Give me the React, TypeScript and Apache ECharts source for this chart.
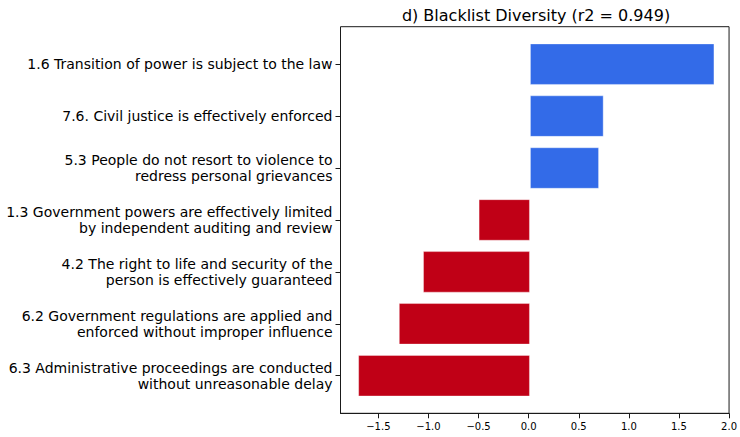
import React, { useEffect, useRef } from "react";
import * as echarts from "echarts";

// Indicator labels, top to bottom
const categories: string[] = [
  "1.6 Transition of power is subject to the law",
  "7.6. Civil justice is effectively enforced",
  "5.3 People do not resort to violence to\nredress personal grievances",
  "1.3 Government powers are effectively limited\nby independent auditing and review",
  "4.2 The right to life and security of the\nperson is effectively guaranteed",
  "6.2 Government regulations are applied and\nenforced without improper influence",
  "6.3 Administrative proceedings are conducted\nwithout unreasonable delay",
];

// Coefficient per indicator
const values: number[] = [1.829, 0.731, 0.685, -0.509, -1.06, -1.3, -1.703];

const xTicks: number[] = [-1.5, -1.0, -0.5, 0.0, 0.5, 1.0, 1.5, 2.0];

const title = "d) Blacklist Diversity (r2 = 0.949)";

const POS = "#336be8";
const NEG = "#c00016";
const FONT = "DejaVu Sans";

export default function App() {
  const ref = useRef<HTMLDivElement>(null);

  useEffect(() => {
    if (!ref.current) return;
    const chart = echarts.init(ref.current, undefined, { renderer: "svg" });

    const left = 340.5;
    const right = 8.3;
    const xMin = -1.878;
    const xMax = 2.0;

    chart.setOption({
      animation: false,
      backgroundColor: "#ffffff",
      textStyle: { fontFamily: FONT },
      graphic: [
        {
          type: "text",
          x: 536,
          y: 15,
          style: {
            text: title,
            fontFamily: FONT,
            fontSize: 16,
            fill: "#000",
            align: "center",
            verticalAlign: "middle",
          },
        },
      ],
      grid: [
        // frame + x axis
        {
          left,
          right,
          top: 26.7,
          height: 386.6,
          show: true,
          borderColor: "#1a1a1a",
          borderWidth: 1,
          backgroundColor: "transparent",
        },
        // bars + category axis
        {
          left,
          right,
          top: 38.2,
          height: 363.5,
        },
      ],
      xAxis: [
        {
          type: "value",
          gridIndex: 0,
          min: xMin,
          max: xMax,
          splitLine: { show: false },
          axisLine: { show: true, onZero: false, lineStyle: { color: "#1a1a1a", width: 1 } },
          axisTick: {
            show: true,
            length: 5,
            lineStyle: { color: "#1a1a1a" },
            customValues: xTicks,
          },
          axisLabel: {
            customValues: xTicks,
            margin: 8,
            fontSize: 10,
            fontFamily: FONT,
            color: "#000",
            formatter: (v: number) => v.toFixed(1).replace("-", "\u2212"),
          },
        },
        {
          type: "value",
          gridIndex: 1,
          min: xMin,
          max: xMax,
          show: false,
        },
      ],
      yAxis: [
        {
          type: "value",
          gridIndex: 0,
          min: 0,
          max: 1,
          show: false,
        },
        {
          type: "category",
          gridIndex: 1,
          position: "left",
          data: categories,
          inverse: true,
          axisLine: { show: false, onZero: false },
          axisTick: {
            show: true,
            alignWithLabel: true,
            length: 5,
            lineStyle: { color: "#1a1a1a" },
          },
          splitLine: { show: false },
          axisLabel: {
            margin: 8,
            fontSize: 14,
            lineHeight: 16,
            fontFamily: FONT,
            color: "#000",
            align: "right",
          },
        },
      ],
      series: [
        {
          type: "bar",
          xAxisIndex: 1,
          yAxisIndex: 1,
          barWidth: "80%",
          data: values.map((v) => ({
            value: v,
            itemStyle: {
              color: v >= 0 ? POS : NEG,
              borderColor: "rgba(255,255,255,0.35)",
              borderWidth: 1,
            },
          })),
        },
      ],
    });

    return () => chart.dispose();
  }, []);

  return (
    <div
      ref={ref}
      style={{ position: "fixed", left: 0, top: 0, width: 740, height: 437 }}
    />
  );
}
